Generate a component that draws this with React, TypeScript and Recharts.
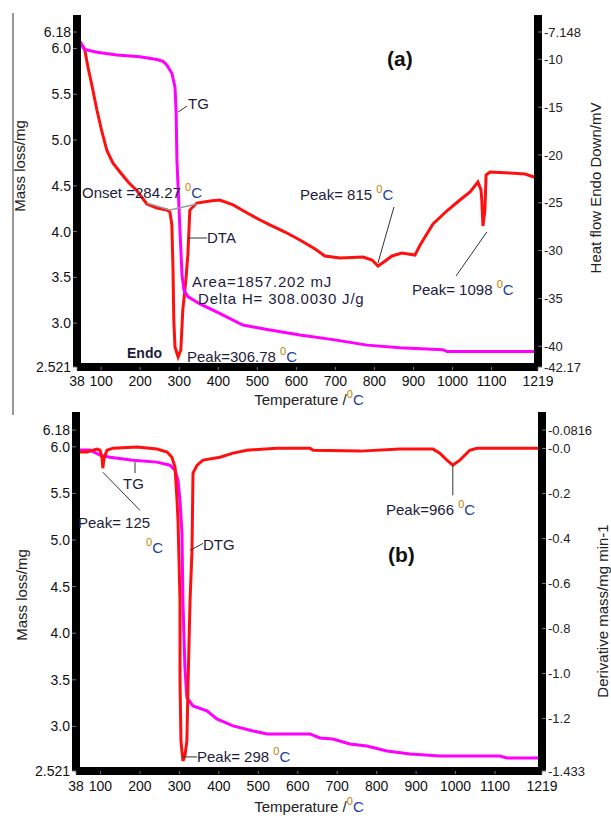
import React from "react";
import { LineChart, Line, XAxis, YAxis, ReferenceLine } from "recharts";

// shared axes
const tempTicks = [38, 100, 200, 300, 400, 500, 600, 700, 800, 900, 1000, 1100, 1219];
const massTicks = [2.521, 3.0, 3.5, 4.0, 4.5, 5.0, 5.5, 6.0, 6.18];
const heatTicks = [-42.17, -40, -35, -30, -25, -20, -15, -10, -7.148];
const dtgTicks = [-1.433, -1.2, -1.0, -0.8, -0.6, -0.4, -0.2, 0, 0.0816];

// (a) TG curve
const tgA_T = [46, 58, 89, 140, 199, 243, 258, 268, 281, 289, 292, 294, 297, 302, 307, 312, 322, 353, 397, 463, 525, 609, 694, 781, 865, 975, 986, 1216];
const tgA_mass = [6.07, 5.99, 5.96, 5.93, 5.91, 5.88, 5.86, 5.82, 5.73, 5.58, 5.3, 4.78, 4.49, 3.99, 3.53, 3.36, 3.29, 3.21, 3.12, 2.98, 2.93, 2.87, 2.82, 2.76, 2.73, 2.71, 2.69, 2.69];

// (a) DTA curve
const dtaA_T = [46, 58, 66, 76, 89, 102, 115, 130, 148, 169, 192, 217, 243, 268, 276, 281, 284, 286, 289, 297, 304, 309, 317, 322, 327, 345, 379, 404, 438, 474, 507, 532, 571, 609, 648, 673, 712, 771, 794, 809, 824, 845, 870, 904, 917, 950, 988, 1019, 1045, 1065, 1073, 1075, 1078, 1083, 1086, 1096, 1147, 1186, 1216];
const dtaA_mV = [-8.19, -9.03, -10.81, -12.69, -15.3, -17.6, -19.59, -20.84, -21.78, -22.83, -23.77, -25.13, -25.55, -25.76, -25.97, -27.32, -32.03, -37.25, -40.08, -41.12, -40.39, -36.21, -33.07, -30.46, -25.76, -25.03, -24.82, -24.71, -25.23, -26.07, -26.8, -27.32, -28.06, -28.89, -29.83, -30.56, -30.77, -30.67, -30.98, -31.61, -31.19, -30.56, -30.25, -30.46, -29.42, -27.22, -25.76, -24.71, -23.87, -22.83, -23.66, -24.71, -27.43, -25.76, -22.1, -21.78, -21.89, -21.99, -22.41];

// (b) TG curve
const tgB_T = [40.5, 73.5, 99, 124, 182.5, 243, 276, 289, 296.5, 301.6, 306.6, 309, 314, 319, 334.5, 370, 395, 436, 486.6, 522, 631, 656, 689, 732, 775, 826, 884.5, 960.5, 1112, 1130, 1214];
const tgB_mass = [5.965, 5.965, 5.911, 5.889, 5.857, 5.836, 5.803, 5.75, 5.642, 5.427, 5.071, 4.35, 3.629, 3.307, 3.22, 3.167, 3.08, 3.005, 2.951, 2.919, 2.919, 2.876, 2.865, 2.811, 2.79, 2.736, 2.704, 2.682, 2.682, 2.661, 2.661];

// (b) DTG curve
const dtgB_T = [40.5, 66, 91, 99, 104, 106, 109, 116.6, 132, 193, 243, 269, 281, 289, 294, 296.5, 301.6, 301.6, 304, 309, 314, 319, 322, 327, 332, 334.5, 345, 360, 403, 436, 471, 547, 631, 639, 758, 859, 943, 960, 978, 993, 1011, 1036, 1054, 1214];
const dtgB_val = [-0.016, -0.016, -0.003, -0.008, -0.043, -0.088, -0.043, -0.008, 0.001, 0.006, -0.003, -0.016, -0.039, -0.083, -0.23, -0.319, -0.676, -1.032, -1.299, -1.388, -1.366, -1.299, -1.045, -0.676, -0.453, -0.11, -0.074, -0.052, -0.039, -0.021, -0.008, 0.001, 0.001, -0.008, -0.012, -0.003, -0.003, -0.021, -0.052, -0.074, -0.052, -0.008, 0.001, 0.001];

const zip = (ts: number[], vs: number[]) => ts.map((t, i) => ({ t, v: vs[i] }));

const FONT = "'Liberation Sans', Arial, sans-serif";
const INK = "#1c1c3c";
const tickStyle = { fill: "#111", fontSize: 14, fontFamily: FONT, stroke: "none" };
const rightTickStyle = { fill: "#222", fontSize: 13, fontFamily: FONT, stroke: "none" };
const tickLine = { stroke: "#777", strokeWidth: 1 };
const axisBase = { axisLine: false, tickLine, interval: 0 as const, allowDataOverflow: true, type: "number" as const };

const fmtMass = (v: number) => (v === 6.18 || v === 2.521 ? String(v) : v.toFixed(1));
const fmtHeat = (v: number) => String(v);
const fmtDtg = (v: number) => "-" + Math.abs(v).toFixed(v === 0.0816 ? 4 : v === -1.433 ? 3 : 1);

const Deg = ({ dy = 7 }: { dy?: number }) => (
  <>
    <tspan dy={-dy} fontSize={11} fill="#c08000">0</tspan>
    <tspan dy={dy} fill="#2040a0">C</tspan>
  </>
);

const lead = { stroke: "#333", strokeWidth: 1, ifOverflow: "visible" as const };
// thick black frame on left, right and bottom
const spine = { stroke: "#000", strokeWidth: 8, ifOverflow: "visible" as const };

export default function App() {
  return (
    <div style={{ position: "absolute", left: 0, top: 0, width: 611, height: 816, background: "#fff" }}>
      <div style={{ position: "absolute", left: 12, top: 13, width: 2, height: 402, background: "#999" }} />

      <div style={{ position: "absolute", left: 0, top: 0 }}>
        <LineChart width={611} height={408} margin={{ top: 15, right: 0, bottom: 0, left: 0 }}>
          <XAxis {...axisBase} dataKey="t" domain={[38, 1219]} ticks={tempTicks} tickSize={3} tickMargin={6} height={41} tick={tickStyle} />
          <YAxis {...axisBase} yAxisId="mass" orientation="left" domain={[2.521, 6.366]} ticks={massTicks}
            tickFormatter={fmtMass} tickSize={4} width={77} tick={tickStyle} />
          <YAxis {...axisBase} yAxisId="heat" orientation="right" domain={[-42.17, -5.371]} ticks={heatTicks}
            tickFormatter={fmtHeat} tickSize={4} width={73} tick={rightTickStyle} />
          <Line data={zip(dtaA_T, dtaA_mV)} dataKey="v" yAxisId="heat" stroke="#ff1010" strokeWidth={3} dot={false} isAnimationActive={false} type="linear" />
          <Line data={zip(tgA_T, tgA_mass)} dataKey="v" yAxisId="mass" stroke="#ff00ff" strokeWidth={3} dot={false} isAnimationActive={false} type="linear" />
          <ReferenceLine yAxisId="mass" x={38} {...spine} />
          <ReferenceLine yAxisId="mass" x={1219} {...spine} />
          <ReferenceLine yAxisId="mass" y={2.521} {...spine} />
          <ReferenceLine yAxisId="mass" segment={[{ x: 217, y: 4.312 }, { x: 276, y: 4.236 }]} stroke="#999" strokeWidth={1.5} ifOverflow="visible" />
          <ReferenceLine yAxisId="mass" segment={[{ x: 276, y: 4.236 }, { x: 345, y: 4.301 }]} stroke="#999" strokeWidth={1.5} ifOverflow="visible" />
          <ReferenceLine yAxisId="mass" segment={[{ x: 297, y: 5.306 }, { x: 320, y: 5.372 }]} {...lead} />
          <ReferenceLine yAxisId="mass" segment={[{ x: 322, y: 3.93 }, { x: 371, y: 3.93 }]} {...lead} />
          <ReferenceLine yAxisId="mass" segment={[{ x: 809, y: 3.657 }, { x: 850, y: 4.269 }]} {...lead} />
          <ReferenceLine yAxisId="mass" segment={[{ x: 1088, y: 3.996 }, { x: 1009, y: 3.515 }]} {...lead} />
        </LineChart>
      </div>

      <div style={{ position: "absolute", left: 0, top: 408 }}>
        <LineChart width={611} height={408} margin={{ top: 4, right: 0, bottom: 0, left: 0 }}>
          <XAxis {...axisBase} dataKey="t" domain={[38, 1219]} ticks={tempTicks} tickSize={3} tickMargin={7} height={45} tick={tickStyle} />
          <YAxis {...axisBase} yAxisId="mass" orientation="left" domain={[2.521, 6.374]} ticks={massTicks}
            tickFormatter={fmtMass} tickSize={4} width={76} tick={tickStyle} />
          <YAxis {...axisBase} yAxisId="dtg" orientation="right" domain={[-1.433, 0.1618]} ticks={dtgTicks}
            tickFormatter={fmtDtg} tickSize={4} width={69} tick={rightTickStyle} />
          <Line data={zip(tgB_T, tgB_mass)} dataKey="v" yAxisId="mass" stroke="#ff00ff" strokeWidth={3} dot={false} isAnimationActive={false} type="linear" />
          <Line data={zip(dtgB_T, dtgB_val)} dataKey="v" yAxisId="dtg" stroke="#ff1010" strokeWidth={3} dot={false} isAnimationActive={false} type="linear" />
          <ReferenceLine yAxisId="mass" x={38} {...spine} />
          <ReferenceLine yAxisId="mass" x={1219} {...spine} />
          <ReferenceLine yAxisId="mass" y={2.521} {...spine} />
          <ReferenceLine yAxisId="mass" segment={[{ x: 187.5, y: 5.836 }, { x: 187.5, y: 5.717 }]} {...lead} />
          <ReferenceLine yAxisId="mass" segment={[{ x: 106, y: 5.728 }, { x: 200, y: 5.319 }]} {...lead} />
          <ReferenceLine yAxisId="mass" segment={[{ x: 327, y: 4.889 }, { x: 360, y: 4.964 }]} {...lead} />
          <ReferenceLine yAxisId="mass" segment={[{ x: 993, y: 5.803 }, { x: 993, y: 5.48 }]} {...lead} />
          <ReferenceLine yAxisId="mass" segment={[{ x: 309, y: 2.672 }, { x: 345, y: 2.672 }]} {...lead} />
        </LineChart>
      </div>

      <svg width={611} height={816} style={{ position: "absolute", left: 0, top: 0, pointerEvents: "none" }}
        fontFamily={FONT}>
        {/* axis titles */}
        <text transform="translate(25,166) rotate(-90)" textAnchor="middle" fontSize={15} fill="#222">Mass loss/mg</text>
        <text transform="translate(601,188) rotate(-90)" textAnchor="middle" fontSize={15} fill="#222">Heat flow Endo Down/mV</text>
        <text x={309} y={405} textAnchor="middle" fontSize={15} fill="#222">Temperature /<Deg /></text>
        <text transform="translate(27,595) rotate(-90)" textAnchor="middle" fontSize={15} fill="#222">Mass loss/mg</text>
        <text transform="translate(608,611) rotate(-90)" textAnchor="middle" fontSize={15} fill="#222">Derivative mass/mg min-1</text>
        <text x={309} y={812} textAnchor="middle" fontSize={15} fill="#222">Temperature /<Deg /></text>

        {/* panel (a) notes */}
        <text x={387} y={66} fontSize={21} fontWeight="bold" fill="#111">(a)</text>
        <text x={188} y={109} fontSize={15} fill={INK}>TG</text>
        <text x={82} y={198} fontSize={15} fill={INK}>Onset =284.27 <Deg /></text>
        <text x={207} y={243} fontSize={15} fill={INK}>DTA</text>
        <text x={192} y={287} fontSize={15} fill={INK} letterSpacing={0.8}>Area=1857.202 mJ</text>
        <text x={198} y={304} fontSize={15} fill={INK} letterSpacing={0.8}>Delta H= 308.0030 J/g</text>
        <text x={127} y={358} fontSize={14} fontWeight="bold" fill={INK}>Endo</text>
        <text x={187} y={362} fontSize={15} fill={INK}>Peak=306.78 <Deg /></text>
        <text x={300} y={200} fontSize={15} fill={INK}>Peak= 815 <Deg /></text>
        <text x={412} y={295} fontSize={15} fill={INK}>Peak= 1098 <Deg /></text>

        {/* panel (b) notes */}
        <text x={388} y={562} fontSize={21} fontWeight="bold" fill="#111">(b)</text>
        <text x={123} y={489} fontSize={15} fill={INK}>TG</text>
        <text x={78} y={528} fontSize={15} fill={INK}>Peak= 125</text>
        <text x={146} y={553} fontSize={15} fill={INK}><Deg dy={7} /></text>
        <text x={203} y={550} fontSize={15} fill={INK}>DTG</text>
        <text x={386} y={515} fontSize={15} fill={INK}>Peak=966 <Deg /></text>
        <text x={197} y={762} fontSize={15} fill={INK}>Peak= 298 <Deg /></text>
      </svg>
    </div>
  );
}
